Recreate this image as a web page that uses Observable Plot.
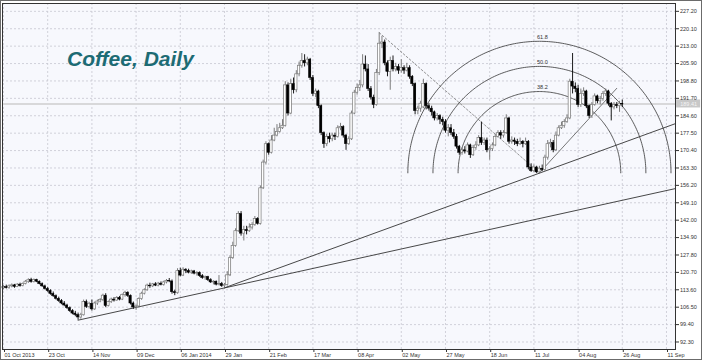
<!DOCTYPE html>
<html><head><meta charset="utf-8">
<script src="https://cdn.jsdelivr.net/npm/d3@7"></script>
<script src="https://cdn.jsdelivr.net/npm/@observablehq/plot@0.6"></script>
<style>
body{margin:0;background:#fff;}
#wrap{position:relative;width:702px;height:360px;overflow:hidden;}
#wrap::after{content:"";position:absolute;left:0;top:0;right:0;bottom:0;border:1px solid #6b6b6b;pointer-events:none;}
</style></head><body><div id="wrap"></div>
<script>
// ---- data ----
const open = [114.2,114.7,114.3,115.0,115.4,114.8,115.7,115.1,116.0,116.9,117.5,116.8,117.6,116.9,115.9,115.0,113.9,113.1,111.9,111.0,109.9,109.0,108.0,107.2,106.1,104.9,103.9,103.3,102.3,103.2,108.6,106.6,107.9,105.6,108.0,108.8,109.4,111.2,107.0,108.6,109.6,109.2,110.3,109.6,111.4,112.4,111.1,108.0,106.4,106.8,109.8,112.0,113.4,115.3,115.0,115.8,115.3,116.1,115.6,116.6,117.2,117.0,112.6,112.2,121.2,119.4,121.8,121.3,120.6,121.1,120.2,120.5,119.2,118.4,118.8,117.5,116.6,116.9,115.7,116.0,115.1,115.6,119.5,126.5,131.5,137.5,144.5,136.5,138.0,137.5,139.0,140.0,142.5,140.5,155.0,165.5,173.0,169.5,174.5,176.5,178.0,179.5,180.5,197.0,185.5,197.5,195.0,201.5,205.0,207.0,206.0,207.5,200.0,193.5,194.5,188.5,177.5,173.0,176.0,175.0,176.5,176.0,179.5,180.0,176.5,173.0,175.0,185.5,194.0,196.0,197.0,205.5,203.5,195.5,192.0,189.0,202.0,214.0,214.5,206.0,202.5,207.0,203.5,204.5,203.0,204.0,203.0,204.0,200.5,197.5,186.5,187.5,188.0,197.5,188.5,187.5,186.0,183.5,184.5,183.0,182.0,178.5,179.5,177.5,176.0,172.0,169.5,170.5,170.0,172.5,168.5,171.5,172.5,175.5,173.5,174.5,170.5,171.0,172.5,176.0,177.5,176.5,177.5,183.5,174.0,174.5,174.0,173.0,174.0,173.0,174.0,163.5,162.0,163.5,161.5,163.0,162.5,167.5,173.0,173.5,170.5,176.5,179.5,180.5,182.0,183.5,198.5,196.5,195.5,189.0,193.5,194.5,188.5,184.5,189.0,192.5,190.5,191.5,193.5,194.5,189.5,188.0,189.0,188.5,189.5];
const high = [115.3,115.5,115.6,116.0,115.8,116.1,116.3,116.4,117.4,118.1,118.3,118.0,117.9,117.2,116.4,115.5,114.6,113.6,112.7,111.5,110.6,109.6,108.8,107.7,106.6,105.5,104.8,104.1,104.0,109.4,109.4,108.5,109.4,108.6,109.4,110.0,111.8,112.0,109.0,110.2,110.4,110.8,110.9,111.9,113.0,112.8,111.5,108.6,107.4,110.3,112.6,114.0,115.9,116.3,116.2,116.5,116.6,116.8,117.1,117.8,118.2,117.6,113.4,122.2,122.4,122.6,122.2,122.0,121.6,121.5,121.0,120.9,119.8,119.2,119.1,118.1,117.3,117.2,119.4,116.6,116.2,121.0,127.5,133.0,138.5,145.5,145.5,139.5,139.5,140.5,141.0,143.5,143.0,156.0,166.5,174.0,173.5,176.5,179.5,181.0,181.5,183.0,198.5,198.0,199.5,200.0,203.0,206.5,210.0,209.5,208.5,208.0,201.0,195.5,195.0,189.0,178.0,177.0,177.5,177.5,177.5,180.5,181.5,180.5,177.0,176.0,186.5,195.0,197.5,199.0,209.5,209.0,205.5,196.5,193.0,203.5,218.5,217.0,215.5,207.0,208.5,209.0,206.0,205.5,207.5,205.0,206.0,205.0,201.0,198.0,188.5,190.5,199.5,198.0,189.5,188.5,186.5,185.5,185.0,184.0,183.0,181.0,181.0,179.0,177.0,172.5,171.5,172.0,173.5,173.0,172.5,174.0,176.5,182.0,175.5,175.5,172.0,173.5,177.0,178.5,178.5,178.5,185.0,184.0,176.0,175.5,175.0,175.5,174.5,175.5,174.5,165.0,164.5,164.0,164.0,164.5,168.5,174.5,175.0,174.5,178.0,180.5,182.0,183.0,185.0,199.5,210.0,198.0,197.0,195.5,196.0,195.0,189.0,190.0,193.5,193.0,192.5,194.5,195.5,195.0,190.0,190.0,190.0,190.5,191.0];
const low = [113.6,113.9,113.8,114.4,114.2,114.5,114.7,114.8,115.6,116.2,116.3,116.4,116.5,115.6,114.6,113.5,112.6,111.4,110.5,109.4,108.5,107.5,106.7,105.6,104.4,103.4,102.6,101.2,101.6,102.9,106.0,105.8,104.9,105.2,107.2,108.3,108.8,106.3,106.6,108.0,108.6,108.9,109.1,109.2,110.6,110.5,107.4,105.6,105.2,106.3,109.3,111.5,113.0,114.2,114.5,114.9,114.8,115.2,115.1,116.0,116.5,111.8,111.2,111.8,118.9,119.0,120.2,120.1,119.9,119.7,119.2,118.7,117.9,117.5,117.0,116.2,115.6,115.2,115.2,114.6,114.4,115.1,119.0,126.0,131.0,137.0,135.5,133.5,136.0,137.0,138.0,139.5,140.0,140.0,154.5,164.5,168.5,169.0,174.0,176.0,177.5,179.0,180.0,184.5,185.0,193.5,194.0,200.5,204.0,204.5,205.0,199.0,192.5,192.0,187.5,176.5,171.3,172.0,173.5,174.0,174.5,175.5,178.5,175.5,170.5,172.5,174.5,185.0,193.0,194.5,196.0,202.5,194.5,191.0,187.5,188.5,201.0,212.0,205.0,200.5,195.0,202.5,202.5,201.5,202.0,201.5,202.5,199.5,196.5,185.0,185.0,186.0,187.5,187.0,186.5,184.5,182.5,182.5,181.0,180.5,177.5,176.0,176.5,175.0,171.0,168.5,168.5,169.0,169.5,167.2,168.0,170.5,172.0,172.5,172.5,169.5,166.5,170.0,172.0,175.5,175.0,175.5,177.0,173.0,173.0,172.5,172.0,172.5,171.5,172.5,162.5,161.5,161.5,161.0,161.3,161.8,162.0,166.5,171.5,169.5,170.0,176.0,179.0,179.5,181.5,183.0,193.5,194.0,188.0,188.0,192.5,187.5,183.5,183.5,188.5,189.5,189.0,190.5,192.5,188.5,182.5,187.0,187.5,186.0,188.0];
const close = [114.7,114.3,115.0,115.4,114.8,115.7,115.1,116.0,116.9,117.5,116.8,117.6,116.9,115.9,115.0,113.9,113.1,111.9,111.0,109.9,109.0,108.0,107.2,106.1,104.9,103.9,103.3,102.3,103.2,108.6,106.6,107.9,105.6,108.0,108.8,109.4,111.2,107.0,108.6,109.6,109.2,110.3,109.6,111.4,112.4,111.1,108.0,106.4,106.8,109.8,112.0,113.4,115.3,115.0,115.8,115.3,116.1,115.6,116.6,117.2,117.0,112.6,112.2,121.2,119.4,121.8,121.3,120.6,121.1,120.2,120.5,119.2,118.4,118.8,117.5,116.6,116.9,115.7,116.0,115.1,115.6,119.5,126.5,131.5,137.5,144.5,136.5,138.0,137.5,139.0,140.0,142.5,140.5,155.0,165.5,173.0,169.5,174.5,176.5,178.0,179.5,180.5,197.0,185.5,197.5,195.0,201.5,205.0,207.0,206.0,207.5,200.0,193.5,194.5,188.5,177.5,173.0,176.0,175.0,176.5,176.0,179.5,180.0,176.5,173.0,175.0,185.5,194.0,196.0,197.0,205.5,203.5,195.5,192.0,189.0,202.0,214.0,214.5,206.0,202.5,207.0,203.5,204.5,203.0,204.0,203.0,204.0,200.5,197.5,186.5,187.5,189.5,197.5,188.5,187.5,186.0,183.5,184.5,183.0,182.0,178.5,179.5,177.5,176.0,172.0,169.5,170.5,170.0,172.5,168.5,171.5,172.5,175.5,173.5,174.5,170.5,171.0,172.5,176.0,177.5,176.5,177.5,183.5,174.0,174.5,174.0,173.0,174.0,173.0,174.0,163.5,162.0,163.5,161.5,163.0,162.5,167.5,173.0,173.5,170.5,176.5,179.5,180.5,182.0,183.5,198.5,196.5,195.5,189.0,193.5,194.5,188.5,184.5,189.0,192.5,190.5,191.5,193.5,194.5,189.5,188.0,189.0,188.5,189.5,189.2];
const xTickIdx = [0,16,32,48,64,80,96,112,128,144,160,176,192,208,224,240];
const xTickLabels = ["01 Oct 2013","23 Oct","14 Nov","09 Dec","06 Jan 2014","29 Jan","21 Feb","17 Mar","08 Apr","02 May","27 May","18 Jun","11 Jul","04 Aug","26 Aug","11 Sep"];
const yTicks = [92.30,99.40,106.50,113.60,120.70,127.80,134.90,142.00,149.10,156.20,163.30,170.40,177.50,184.60,191.70,198.80,205.90,213.00,220.10,227.20];
const fibLevels = [38.2, 50.0, 61.8];
const bid = 189.41;
const trendA = [[27,101.2],[243.26,154.9]];
const trendB = [[80,114.4],[243.26,181.4]];
const trendC = [[194,161.3],[222,195.8]];
const fibLine = [[136,218.5],[194,161.3]];
const title = "Coffee, Daily";

// ---- layout ----
const W = 702, H = 360, mL = 2, mR = 27, mT = 3, mB = 11;
const xDomain = [-0.36, 243.26], yDomain = [89.24, 230.4];
const kx = (W - mL - mR) / (xDomain[1] - xDomain[0]);
const ky = (H - mT - mB) / (yDomain[1] - yDomain[0]);

const bars = close.map((c, i) => ({i, o: open[i], h: high[i], l: low[i], c, up: c >= open[i]}));
const ups = bars.filter(d => d.up), downs = bars.filter(d => !d.up);

// Fibonacci arcs (circles in screen space) from the dashed trend line
const [[fx1, fy1], [fx2, fy2]] = fibLine;
const L = Math.hypot((fx2 - fx1) * kx, (fy2 - fy1) * ky);
const arcPts = [];
for (const lev of fibLevels) {
  const r = lev / 100 * L;
  for (let k = 0; k <= 180; k++) {
    const t = Math.PI * k / 180;
    arcPts.push({lev, x: fx2 + r * Math.cos(t) / kx, y: fy2 + r * Math.sin(t) / ky});
  }
}
const arcLabels = fibLevels.map(lev => ({lev, x: fx2, y: fy2 + lev / 100 * L / ky}));
const pt = a => a.map(([x, y]) => ({x, y}));

const font = "Liberation Sans, Arial, sans-serif";
const plot = Plot.plot({
  width: W, height: H, marginLeft: mL, marginRight: mR, marginTop: mT, marginBottom: mB,
  style: {background: "#fff", fontFamily: font},
  x: {domain: xDomain, axis: null},
  y: {domain: yDomain, axis: null},
  marks: [
    Plot.frame({fill: "#f7f8fd", stroke: null}),
    Plot.ruleX(xTickIdx, {stroke: "#c6c6d0", strokeDasharray: "2,2", strokeWidth: 0.8}),
    Plot.ruleY(yTicks, {stroke: "#c6c6d0", strokeDasharray: "2,2", strokeWidth: 0.8}),
    Plot.ruleY([bid], {stroke: "#d8d8da", strokeWidth: 2}),
    Plot.line(pt(fibLine), {x: "x", y: "y", stroke: "#7a7a7a", strokeWidth: 0.8, strokeDasharray: "2,2"}),
    Plot.line(arcPts, {x: "x", y: "y", z: "lev", stroke: "#333", strokeWidth: 0.8, clip: true}),
    Plot.text(arcLabels, {x: "x", y: "y", text: d => d.lev.toFixed(1), dx: 3, dy: -4, fontSize: 5.5, fill: "#333"}),
    Plot.line(pt(trendA), {x: "x", y: "y", stroke: "#333", strokeWidth: 0.9, clip: true}),
    Plot.line(pt(trendB), {x: "x", y: "y", stroke: "#333", strokeWidth: 0.9, clip: true}),
    Plot.line(pt(trendC), {x: "x", y: "y", stroke: "#555", strokeWidth: 0.8}),
    Plot.ruleX(ups, {x: "i", y1: "l", y2: "h", stroke: "#6e6e6e", strokeWidth: 0.9}),
    Plot.ruleX(downs, {x: "i", y1: "l", y2: "h", stroke: "#000", strokeWidth: 0.9}),
    Plot.rect(ups, {x1: d => d.i - 0.42, x2: d => d.i + 0.42, y1: "o", y2: "c", fill: "#fff", stroke: "#7a7a7a", strokeWidth: 0.7}),
    Plot.rect(downs, {x1: d => d.i - 0.42, x2: d => d.i + 0.42, y1: "o", y2: "c", fill: "#000", stroke: "#000", strokeWidth: 0.5}),
    Plot.text([title], {frameAnchor: "top-left", dx: 64.5, dy: 62.5, lineAnchor: "bottom", textAnchor: "start",
      fontSize: 21, fontWeight: "bold", fontStyle: "italic", fill: "#1d6b74", fontFamily: font}),
    Plot.rect([bid], {x1: xDomain[1] + 0.4, x2: xDomain[1] + 0.4 + 24 / kx, y1: d => d - 4 / ky, y2: d => d + 4 / ky, fill: "#c8c8c8"}),
    Plot.text([bid], {x: xDomain[1] + 0.4 + 12 / kx, y: d => d, text: d => d.toFixed(2), fontSize: 5.5, fill: "#f4f4f4"}),
    Plot.frame({stroke: "#333", strokeWidth: 1}),
    Plot.axisY(yTicks, {anchor: "right", tickSize: 3, tickPadding: 1.5, tickFormat: d => d.toFixed(2), fontSize: 5.5, color: "#333", label: null}),
    Plot.axisX(xTickIdx, {anchor: "bottom", tickSize: 3, tickPadding: 1, tickFormat: d => xTickLabels[xTickIdx.indexOf(d)], textAnchor: "start", dx: 1, fontSize: 5.5, color: "#333", label: null})
  ]
});
document.getElementById("wrap").appendChild(plot);
</script></body></html>
